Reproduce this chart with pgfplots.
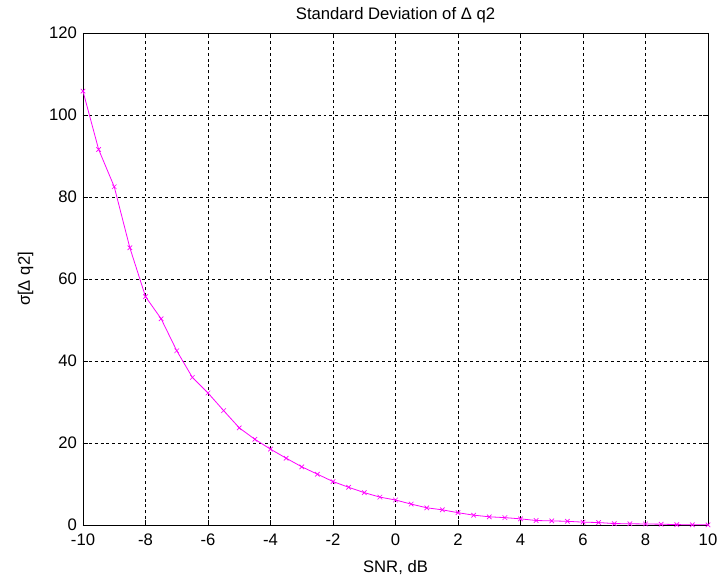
\documentclass[border=0pt]{standalone}
\usepackage{fontspec}
\setmainfont{Liberation Sans}
\usepackage{pgfplots}
\pgfplotsset{compat=1.18}
\usetikzlibrary{calc}
\definecolor{mag}{RGB}{255,0,255}
\begin{document}
\begin{tikzpicture}
\begin{axis}[
  scale only axis,
  width=468.75pt, height=369pt,
  xmin=-10, xmax=10, ymin=0, ymax=120,
  xtick={-10,-8,...,10}, ytick={0,20,...,120},
  grid=major,
  major grid style={black, dash pattern=on 2.2pt off 2.2pt, line width=0.6pt},
  axis line style={black, line width=0.6pt},
  tick style={black, line width=0.6pt},
  tick align=inside,
  major tick length=4pt,
  /pgf/number format/assume math mode=true,
  ticklabel style={font=\fontsize{12.5}{14}\selectfont},
  xticklabel style={yshift=-3pt},
  yticklabel style={xshift=-1pt},
  title={Standard Deviation of Δ q2},
  title style={font=\fontsize{12.5}{14}\selectfont, yshift=-2pt},
  xlabel={SNR, dB},
  ylabel={σ[Δ q2]},
  label style={font=\fontsize{12.5}{14}\selectfont},
  xlabel style={yshift=-4.5pt},
  ylabel style={yshift=5pt},
]
\addplot[color=mag, line width=0.6pt, mark=x, mark size=2.4pt, mark options={line width=0.5pt}] coordinates {
(-10,105.8) (-9.5,91.6) (-9,82.5) (-8.5,67.6) (-8,55.7) (-7.5,50.3) (-7,42.5) (-6.5,36) (-6,32.2)
(-5.5,27.9) (-5,23.7) (-4.5,20.9) (-4,18.5) (-3.5,16.3) (-3,14.2) (-2.5,12.4) (-2,10.6)
(-1.5,9.2) (-1,7.9) (-0.5,6.8) (0,6.1) (0.5,5.1) (1,4.2) (1.5,3.7) (2,3.0) (2.5,2.4)
(3,2.0) (3.5,1.8) (4,1.5) (4.5,1.1) (5,1.0) (5.5,0.9) (6,0.7) (6.5,0.6) (7,0.35)
(7.5,0.3) (8,0.25) (8.5,0.2) (9,0.1) (9.5,0.05) (10,0.05)
};
\end{axis}
\pgfresetboundingbox
\path (current axis.south west) ++(-62.25pt,-45.75pt) coordinate (bl);
\path (current axis.north east) ++(9pt,24.75pt) coordinate (tr);
\path[use as bounding box] (bl) rectangle (tr);
\end{tikzpicture}
\end{document}
